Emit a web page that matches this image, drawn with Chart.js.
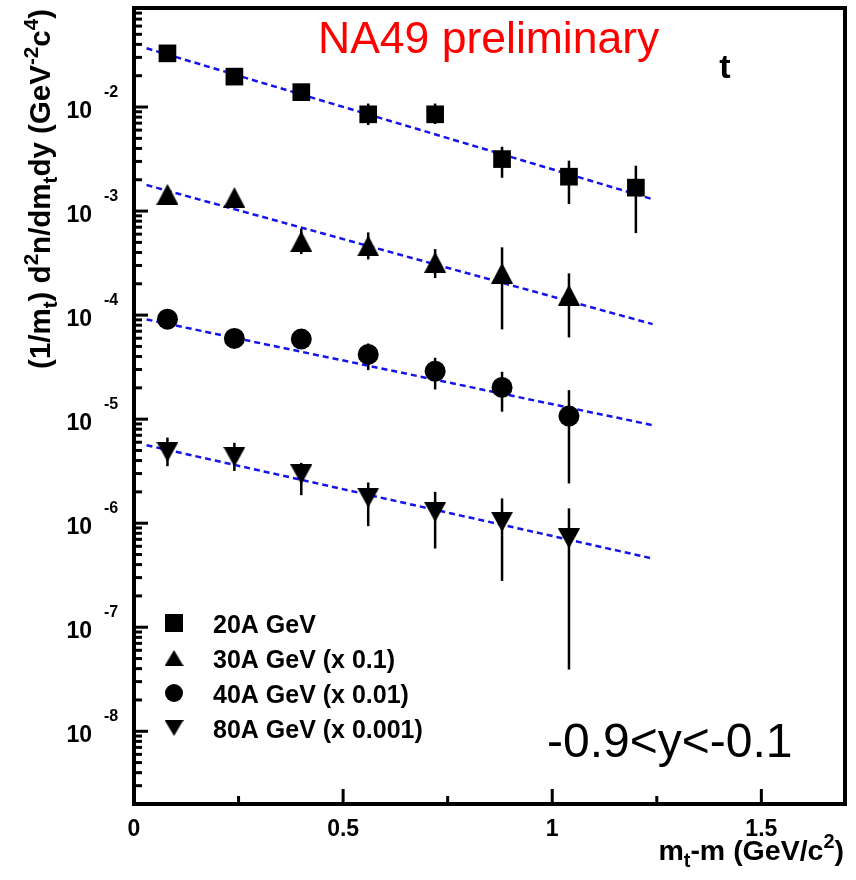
<!DOCTYPE html>
<html>
<head>
<meta charset="utf-8">
<script src="https://cdn.jsdelivr.net/npm/chart.js@4.4.1/dist/chart.umd.min.js"></script>
<style>
  body { margin: 0; background: #fff; }
  #wrap { width: 856px; height: 880px; }
</style>
</head>
<body>
<div id="wrap"><canvas id="myChart" width="856" height="880"></canvas></div>
<script>
// m_t - m bin centres (GeV/c^2)
const mtBins = [0.08, 0.24, 0.40, 0.56, 0.72, 0.88, 1.04, 1.20];

// spectra (already scaled as in legend), null = no point / no visible bar
const y20 = [0.0328, 0.0196, 0.0139, 0.00851, 0.00851, 0.00316, 0.00214, 0.00168];
const y20Hi = [null, null, null, 0.0108, 0.0108, 0.00415, 0.00305, 0.00273];
const y20Lo = [null, null, null, 0.00671, 0.00686, 0.00209, 0.00117, 0.000614];

const y30 = [0.00145, 0.00135, 0.000511, 0.000463, 0.000322, 0.000253, 0.000156, null];
const y30Hi = [null, null, 0.000678, 0.000624, 0.000431, 0.000448, 0.000252, null];
const y30Lo = [null, null, 0.000386, 0.000343, 0.000227, 0.0000729, 0.000061, null];

const y40 = [0.0000915, 0.0000597, 0.0000588, 0.0000419, 0.0000289, 0.0000202, 0.0000107, null];
const y40Hi = [null, null, null, 0.0000534, 0.0000389, 0.0000285, 0.000019, null];
const y40Lo = [null, null, null, 0.0000296, 0.0000193, 0.0000118, 0.00000241, null];

const y80 = [0.00000485, 0.00000434, 0.00000295, 0.00000176, 0.00000128, 0.00000103, 0.000000713, null];
const y80Hi = [0.00000665, 0.00000592, 0.0000038, 0.00000246, 0.000002, 0.00000173, 0.00000139, null];
const y80Lo = [0.00000353, 0.00000318, 0.00000186, 0.000000936, 0.000000571, 0.000000279, 0.0000000392, null];

// exponential fits (straight on log scale), end points
const fitX = [0.03, 1.24];
const fit20 = [0.0367, 0.0013];
const fit30 = [0.00178, 0.0000819];
const fit40 = [0.0000909, 0.00000876];
const fit80 = [0.00000562, 0.000000458];

const seriesLabels = ['20A GeV', '30A GeV (x 0.1)', '40A GeV (x 0.01)', '80A GeV (x 0.001)'];
const xTickLabels = [0, 0.5, 1, 1.5];
const xMinorTicks = [0.25, 0.75, 1.25];
const yTickExps = [-2, -3, -4, -5, -6, -7, -8];

const FONT = '"Liberation Sans", Arial, sans-serif';

// triangle marker as image so the box is centred on the point (like ROOT)
function triCanvas(w, h, up) {
    const c = document.createElement('canvas');
    c.width = w; c.height = h;
    const g = c.getContext('2d');
    g.fillStyle = '#000';
    g.beginPath();
    if (up) {
        g.moveTo(w / 2, 0); g.lineTo(w, h); g.lineTo(0, h);
    } else {
        g.moveTo(0, 0); g.lineTo(w, 0); g.lineTo(w / 2, h);
    }
    g.closePath();
    g.fill();
    return c;
}

const markers = [
    { pointStyle: 'rect', radius: 12.5 },
    { pointStyle: triCanvas(22, 21, true), radius: 11 },
    { pointStyle: 'circle', radius: 10.5 },
    { pointStyle: triCanvas(22, 20, false), radius: 11 }
];
// legend markers are a bit smaller
const legendMarkers = [
    { pointStyle: 'rect', radius: 12.7 },
    { pointStyle: triCanvas(19, 16, true), radius: 9 },
    { pointStyle: 'circle', radius: 9 },
    { pointStyle: triCanvas(19, 16, false), radius: 9 }
];

function toPoints(xs, ys) {
    return xs.map((x, i) => ({ x: x, y: ys[i] })).filter(p => p.y !== null);
}

const errorSets = [
    [y20Lo, y20Hi], [y30Lo, y30Hi], [y40Lo, y40Hi], [y80Lo, y80Hi]
];

function pointSet(label, ys, m) {
    return {
        type: 'line',
        label: label,
        data: toPoints(mtBins, ys),
        showLine: false,
        pointStyle: m.pointStyle,
        pointRadius: m.radius,
        pointBackgroundColor: '#000',
        pointBorderColor: '#000',
        pointBorderWidth: 0,
        order: 0
    };
}

function fitSet(ys) {
    return {
        type: 'line',
        data: toPoints(fitX, ys),
        borderColor: 'rgb(20,20,235)',
        borderWidth: 2.5,
        borderDash: [6, 4],
        pointRadius: 0,
        fill: false,
        order: 1
    };
}

// rich text with sub/superscripts: parts = [[text, level]]
function richWidth(ctx, parts, size) {
    let w = 0;
    parts.forEach(p => {
        ctx.font = 'bold ' + (p[1] ? size * 0.7 : size) + 'px ' + FONT;
        w += ctx.measureText(p[0]).width;
    });
    return w;
}
function drawRich(ctx, parts, x, y, size, align) {
    const w = richWidth(ctx, parts, size);
    let cx = align === 'right' ? x - w : x;
    ctx.textAlign = 'left';
    ctx.textBaseline = 'alphabetic';
    parts.forEach(p => {
        ctx.font = 'bold ' + (p[1] ? size * 0.7 : size) + 'px ' + FONT;
        const dy = p[1] === 1 ? -size * 0.42 : (p[1] === -1 ? size * 0.25 : 0);
        ctx.fillText(p[0], cx, y + dy);
        cx += ctx.measureText(p[0]).width;
    });
}

const errorBars = {
    id: 'errorBars',
    beforeDatasetsDraw(chart) {
        const ctx = chart.ctx;
        const xs = chart.scales.x, ys = chart.scales.y;
        ctx.save();
        ctx.fillStyle = '#000';
        errorSets.forEach(set => {
            mtBins.forEach((x, i) => {
                if (set[0][i] === null) return;
                const px = xs.getPixelForValue(x);
                const top = ys.getPixelForValue(set[1][i]);
                const bot = ys.getPixelForValue(set[0][i]);
                ctx.fillRect(px - 1.25, top, 2.5, bot - top);
            });
        });
        ctx.restore();
    }
};

const texts = {
    id: 'texts',
    afterDraw(chart) {
        const ctx = chart.ctx;
        const xs = chart.scales.x, ys = chart.scales.y;
        ctx.save();
        ctx.fillStyle = '#000';

        yTickExps.forEach(e => {
            const py = ys.getPixelForValue(Math.pow(10, e));
            ctx.font = 'bold 23px ' + FONT;
            ctx.textAlign = 'right';
            ctx.textBaseline = 'alphabetic';
            ctx.fillText('10', 92, py + 11);
            ctx.font = 'bold 16px ' + FONT;
            ctx.textAlign = 'left';
            ctx.fillText(String(e), 104, py - 10);
        });
        xTickLabels.forEach(v => {
            ctx.font = 'bold 23px ' + FONT;
            ctx.textAlign = 'center';
            ctx.textBaseline = 'alphabetic';
            ctx.fillText(String(v), xs.getPixelForValue(v), 836);
        });

        // axis titles
        drawRich(ctx, [['m', 0], ['t', -1], ['-m (GeV/c', 0], ['2', 1], [')', 0]], 844, 860, 28.5, 'right');
        ctx.save();
        ctx.translate(50, 9);
        ctx.rotate(-Math.PI / 2);
        drawRich(ctx, [['(1/m', 0], ['t', -1], [') d', 0], ['2', 1], ['n/dm', 0], ['t', -1],
            ['dy (GeV', 0], ['-2', 1], ['c', 0], ['4', 1], [')', 0]], 0, 0, 29.5, 'right');
        ctx.restore();

        // labels
        ctx.textAlign = 'left';
        ctx.textBaseline = 'alphabetic';
        ctx.fillStyle = '#ff0000';
        ctx.font = '44.5px ' + FONT;
        ctx.fillText('NA49 preliminary', 318, 53);
        ctx.fillStyle = '#000';
        ctx.font = 'bold 34px ' + FONT;
        ctx.textAlign = 'center';
        ctx.fillText('t', 725, 78);
        ctx.font = '48px ' + FONT;
        ctx.textAlign = 'left';
        ctx.fillText('-0.9<y<-0.1', 547, 757);

        // legend
        const rowY = [623, 658, 693, 728];
        seriesLabels.forEach((lab, i) => {
            ctx.fillStyle = '#000';
            Chart.helpers.drawPoint(ctx, { pointStyle: legendMarkers[i].pointStyle, radius: legendMarkers[i].radius, rotation: 0, borderWidth: 0 }, 174, rowY[i]);
            ctx.font = 'bold 25px ' + FONT;
            ctx.textAlign = 'left';
            ctx.fillText(lab, 213, rowY[i] + 10);
        });
        ctx.restore();
    }
};

// frame and tick marks, drawn last
const axesFrame = {
    id: 'axesFrame',
    afterDraw(chart) {
        const ctx = chart.ctx;
        const a = chart.chartArea;
        const xs = chart.scales.x, ys = chart.scales.y;
        ctx.save();
        ctx.setLineDash([]);
        ctx.globalAlpha = 1;
        ctx.strokeStyle = '#000';
        ctx.lineWidth = 4;
        ctx.strokeRect(a.left, a.top, a.right - a.left, a.bottom - a.top);

        ctx.fillStyle = '#000';
        for (let e = -9; e <= -1; e++) {
            for (let m = 1; m <= 9; m++) {
                const v = m * Math.pow(10, e);
                if (v < ys.min || v > ys.max) continue;
                const py = ys.getPixelForValue(v);
                ctx.fillRect(a.left, py - 1.5, m === 1 ? 14 : 8, 3);
            }
        }
        xTickLabels.forEach(v => {
            const px = xs.getPixelForValue(v);
            ctx.fillRect(px - 1.5, a.bottom - 15, 3, 15);
        });
        xMinorTicks.forEach(v => {
            const px = xs.getPixelForValue(v);
            ctx.fillRect(px - 1.5, a.bottom - 8, 3, 8);
        });
        ctx.restore();
    }
};

const ctx = document.getElementById('myChart').getContext('2d');
new Chart(ctx, {
    type: 'line',
    data: {
        datasets: [
            pointSet(seriesLabels[0], y20, markers[0]),
            pointSet(seriesLabels[1], y30, markers[1]),
            pointSet(seriesLabels[2], y40, markers[2]),
            pointSet(seriesLabels[3], y80, markers[3]),
            fitSet(fit20),
            fitSet(fit30),
            fitSet(fit40),
            fitSet(fit80)
        ]
    },
    options: {
        responsive: false,
        animation: false,
        layout: { autoPadding: false, padding: { left: 134, right: 11, top: 8, bottom: 76 } },
        plugins: { legend: { display: false }, tooltip: { enabled: false } },
        scales: {
            x: { type: 'linear', min: 0, max: 1.7, display: false },
            y: { type: 'logarithmic', min: 2e-9, max: 0.0895, display: false }
        }
    },
    plugins: [errorBars, texts, axesFrame]
});
</script>
</body>
</html>
